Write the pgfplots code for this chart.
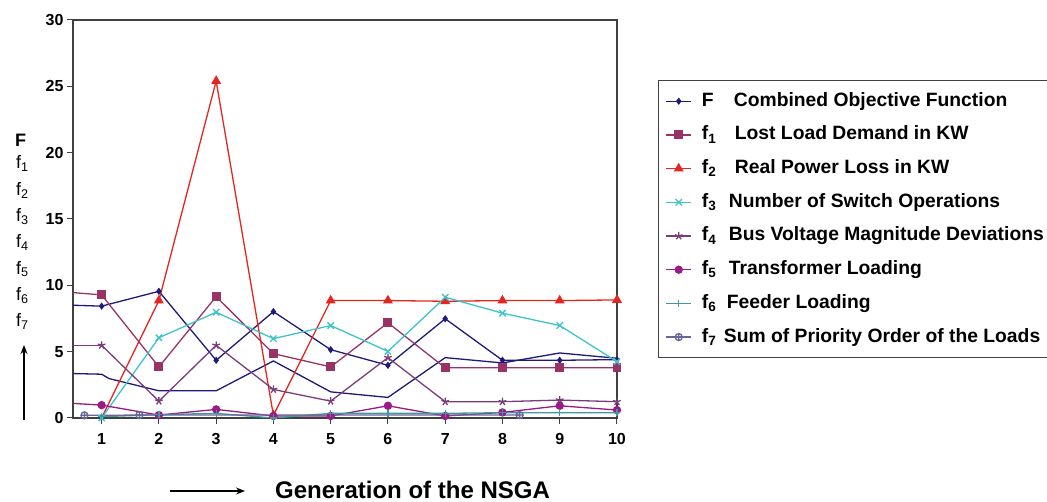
\documentclass[border=0pt]{standalone}
\usepackage{pgfplots}
\pgfplotsset{compat=1.18}
\usepackage{fontspec}
\setmainfont{Liberation Sans}
\usetikzlibrary{arrows.meta}

\definecolor{cF}{HTML}{1F1A7A}
\definecolor{cA}{HTML}{993366}
\definecolor{cB}{HTML}{E52620}
\definecolor{cC}{HTML}{3CC4C8}
\definecolor{cD}{HTML}{7A3D7A}
\definecolor{cE}{HTML}{9A1A86}
\definecolor{cG}{HTML}{3E9A9E}
\definecolor{cH}{HTML}{666699}
\definecolor{axisgray}{HTML}{404040}

\begin{document}
\begin{tikzpicture}[x=1pt,y=1pt]
\begin{axis}[
  at={(0,0)}, anchor=south west,
  scale only axis, width=544pt, height=398pt,
  xmin=0.5, xmax=10, ymin=0, ymax=30,
  xtick={1,...,10}, ytick={0,5,...,30},
  tick align=outside, xtick pos=bottom, ytick pos=left,
  major tick length=6pt,
  axis line style={line width=1.3pt, draw=axisgray},
  tick style={line width=1pt, draw=axisgray},
  ticklabel style={font=\bfseries\fontsize{16}{16}\selectfont},
  xticklabel style={yshift=-6pt},
  /pgf/number format/assume math mode=true,
  every axis plot/.append style={line width=1.3pt},
  legend image code/.code={%
    \draw[mark repeat=2,mark phase=2,#1]
      plot coordinates {(0pt,0pt) (12.5pt,0pt) (25pt,0pt)};},
  legend style={
    at={(1.0754,0.849)}, anchor=north west,
    draw=axisgray, line width=1.2pt,
    font=\bfseries\fontsize{19.3}{19.3}\selectfont,
    inner xsep=7pt, inner ysep=11.5pt,
    nodes={inner sep=0pt, text height=14pt, text depth=4pt},
    row sep=15.7pt,
    /tikz/every odd column/.append style={column sep=10pt},
  },
  legend cell align=left,
]

% unmarked reference curve
\addplot[cF, forget plot] coordinates {
  (0.5,3.35) (1,3.3) (1.13,2.97) (2,2.05) (3,2.05) (4,4.3)
  (5,1.97) (6,1.55) (7,4.55) (8,4.15) (9,4.9) (10,4.5)};

% left-edge stubs of the series
\addplot[cF, forget plot] coordinates {(0.5,8.5) (1,8.43)};
\addplot[cA, forget plot] coordinates {(0.5,9.45) (1,9.28)};
\addplot[cD, forget plot] coordinates {(0.5,5.48) (1,5.48)};
\addplot[cE, forget plot] coordinates {(0.5,1.1) (1,0.97)};
\addplot[cB, forget plot] coordinates {(1,0) (2,8.85)};

% F
\addplot[cF, mark=diamond*, mark size=2.6pt] coordinates {
  (1,8.43) (2,9.55) (3,4.35) (4,8.02) (5,5.15)
  (6,3.97) (7,7.48) (8,4.35) (9,4.35) (10,4.4)};
\addlegendentry{\makebox[32pt][l]{F}Combined Objective Function}

% f1
\addplot[cA, mark=square*, mark size=3.8pt] coordinates {
  (1,9.28) (2,3.85) (3,9.15) (4,4.85) (5,3.85)
  (6,7.18) (7,3.78) (8,3.78) (9,3.78) (10,3.78)};
\addlegendentry{\makebox[33pt][l]{f\textsubscript{1}}Lost Load Demand in KW}

% f2
\addplot[cB, mark=triangle*, mark size=4.5pt] coordinates {
  (2,8.85) (3,25.4) (4,0.2) (5,8.85)
  (6,8.85) (7,8.8) (8,8.85) (9,8.85) (10,8.9)};
\addlegendentry{\makebox[33pt][l]{f\textsubscript{2}}Real Power Loss in KW}

% f3
\addplot[cC, mark=x, mark size=4.5pt] coordinates {
  (1,0) (2,6.05) (3,7.97) (4,5.98) (5,6.97)
  (6,5.02) (7,9.1) (8,7.9) (9,6.97) (10,4.25)};
\addlegendentry{\makebox[27pt][l]{f\textsubscript{3}}Number of Switch Operations}

% f4
\addplot[cD, mark=star, mark size=4pt] coordinates {
  (1,5.48) (2,1.27) (3,5.48) (4,2.15) (5,1.27)
  (6,4.55) (7,1.23) (8,1.23) (9,1.35) (10,1.23)};
\addlegendentry{\makebox[27pt][l]{f\textsubscript{4}}Bus Voltage Magnitude Deviations\hspace{20pt}}

% f5
\addplot[cE, mark=*, mark size=3.5pt] coordinates {
  (1,0.97) (2,0.22) (3,0.65) (4,0.15) (5,0.15)
  (6,0.92) (7,0.15) (8,0.42) (9,0.92) (10,0.6)};
\addlegendentry{\makebox[27pt][l]{f\textsubscript{5}}Transformer Loading}

% f6
\addplot[cG, mark=+, mark size=3.5pt] coordinates {
  (1,0.1) (2,0.25) (3,0.35) (4,0) (5,0.35)
  (6,0.35) (7,0.35) (8,0.4) (9,0.4) (10,0.4)};
\addlegendentry{\makebox[25pt][l]{f\textsubscript{6}}Feeder Loading}

% f7
\addplot[cH, mark=oplus, mark size=3.5pt] coordinates {
  (0.7,0.2) (1.66,0.22) (8.3,0.22)};
\addlegendentry{\makebox[22pt][l]{f\textsubscript{7}}Sum of Priority Order of the Loads}

\end{axis}

% stacked quantity names beside the value axis
\node[anchor=base west, font=\bfseries\fontsize{18}{18}\selectfont, inner sep=0pt] at (-58,271) {F};
\foreach \i in {1,...,7} {
  \node[anchor=base west, font=\fontsize{18}{18}\selectfont, inner sep=0pt]
    at (-57,{249-26.3*(\i-1)}) {f\textsubscript{\i}};
}
\draw[line width=1.2pt, -{Stealth[length=9pt,width=7pt]}] (-49,-2) -- (-49,73);

% generation axis caption
\draw[line width=1.2pt, -{Stealth[length=9pt,width=7pt]}] (97,-73) -- (172,-73);
\node[anchor=base west, font=\bfseries\fontsize{24}{24}\selectfont, inner sep=0pt] at (202,-81) {Generation of the NSGA};

\pgfresetboundingbox
\useasboundingbox (-73,-84) rectangle (974,418);
\end{tikzpicture}
\end{document}
